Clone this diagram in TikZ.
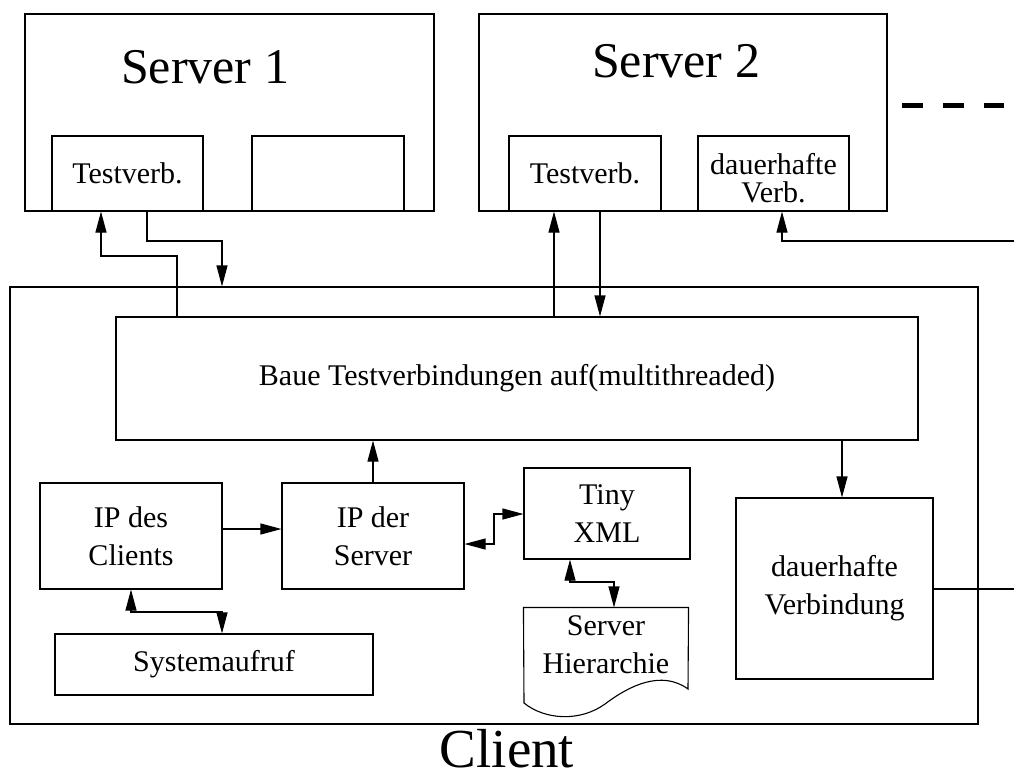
\documentclass[tikz,border=0pt]{standalone}
\usepackage{fontspec}
\setmainfont{Liberation Serif}
\usetikzlibrary{arrows.meta}
\begin{document}
\begin{tikzpicture}[x=1pt,y=-1pt,
  box/.style={draw, line width=1.1pt, inner sep=0pt, align=center, font=\fontsize{30}{38}\selectfont},
  conn/.style={line width=1.1pt},
  tip/.style={conn, -{Triangle[length=21pt,width=11pt]}},
  dtip/.style={conn, {Triangle[length=21pt,width=11pt]}-{Triangle[length=21pt,width=11pt]}},
  txt/.style={inner sep=0pt, align=center, font=\fontsize{30}{28}\selectfont},
  title/.style={inner sep=0pt, font=\fontsize{50}{60}\selectfont},
  ctitle/.style={inner sep=0pt, font=\fontsize{55}{64}\selectfont},
]
\useasboundingbox (0,0) rectangle (1014,780);

% Server 1
\node[box, minimum width=409, minimum height=197] (s1) at (229.5,112.5) {};
\node[box, minimum width=151, minimum height=75] (tv1) at (127.5,173.5) {Testverb.};
\node[box, minimum width=152, minimum height=75] (e1) at (328,173.5) {};
\node[title, anchor=base] (s1t) at (205,83) {Server 1};

% Server 2
\node[box, minimum width=408, minimum height=197] (s2) at (683,112.5) {};
\node[box, minimum width=152, minimum height=75] (tv2) at (585,173.5) {Testverb.};
\node[box, minimum width=151, minimum height=75] (dv2) at (773.5,173.5) {};
\node[txt] (dv2t) at (773.5,178) {dauerhafte\\Verb.};
\node[title, anchor=base] (s2t) at (676,77) {Server 2};

% dashes
\draw[line width=5pt, dash pattern=on 21pt off 20pt] (902,105) -- (1004,105);

% Client
\node[box, minimum width=968, minimum height=437] (client) at (494,505.5) {};
\node[ctitle, anchor=base] (ct) at (507,767) {Client};
\node[box, minimum width=802, minimum height=123] (baue) at (517,378.5) {Baue Testverbindungen auf(multithreaded)};
\node[box, minimum width=182, minimum height=106] (ipc) at (131,536) {IP des\\Clients};
\node[box, minimum width=182, minimum height=106] (ips) at (373,536) {IP der\\Server};
\node[box, minimum width=166, minimum height=91] (tiny) at (607,513.5) {Tiny\\XML};
\node[box, draw=none, minimum width=164, minimum height=73] (hier) at (606,644.5) {Server\\Hierarchie};
\draw[conn] (hier.north west) -- (524,703) .. controls (545,720) and (580,722) .. (605,704)
  .. controls (630,685) and (662,670) .. (688,689) -- (hier.north east) -- cycle;
\node[box, minimum width=197, minimum height=181] (dvb) at (834.5,588.5) {dauerhafte\\Verbindung};
\node[box, minimum width=318, minimum height=61] (sys) at (214,664.5) {Systemaufruf};

\coordinate (rin) at (1014,241);
\coordinate (rout) at (1014,589);

% connectors
\draw[tip] (baue.north -| 177,0) |- (101,256) -- (tv1.south -| 101,0);
\draw[tip] (tv1.south -| 147,0) |- (222,241) -- (client.north -| 222,0);
\draw[tip] (baue.north -| 554,0) -- (tv2.south -| 554,0);
\draw[tip] (tv2.south -| 600,0) -- (baue.north -| 600,0);
\draw[tip] (rin) -| (dv2.south -| 782,0);
\draw[conn] (dvb.east |- rout) -- (rout);
\draw[tip] (baue.south -| 842,0) -- (dvb.north -| 842,0);
\draw[tip] (ips.north) -- (baue.south -| ips.north);
\draw[tip] (ipc.east |- 0,529) -- (ips.west |- 0,529);
\draw[dtip] (ips.east |- 0,544) -| (494,514) -- (tiny.west |- 0,514);
\draw[dtip] (ipc.south -| 131,0) |- (222,612) -- (sys.north -| 222,0);
\draw[dtip] (tiny.south -| 570,0) |- (614,582) -- (hier.north -| 614,0);
\end{tikzpicture}
\end{document}
